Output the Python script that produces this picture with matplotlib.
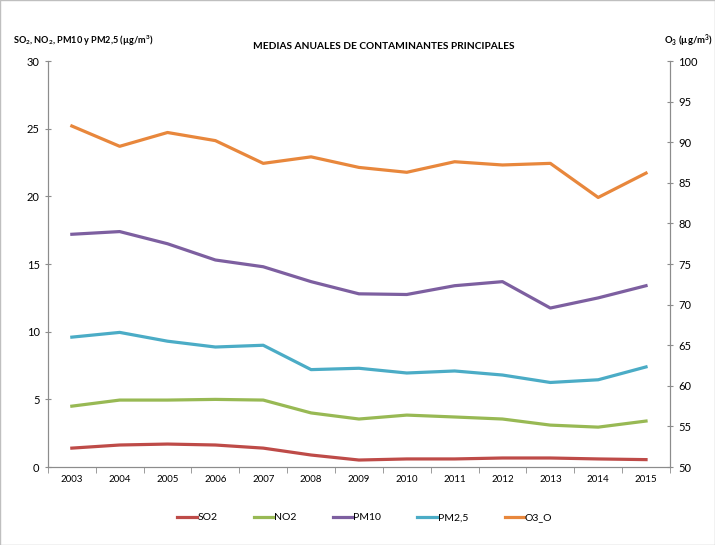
import matplotlib.pyplot as plt
from matplotlib.patches import Rectangle
import numpy as np

plt.rcParams['font.family'] = ['Lato', 'DejaVu Sans']
plt.rcParams['mathtext.fontset'] = 'custom'
plt.rcParams['mathtext.rm'] = 'Lato'
plt.rcParams['mathtext.bf'] = 'Lato:bold'
plt.rcParams['mathtext.default'] = 'bf'

years = [2003, 2004, 2005, 2006, 2007, 2008, 2009, 2010, 2011, 2012, 2013, 2014, 2015]
so2 = [1.4, 1.63, 1.7, 1.63, 1.4, 0.89, 0.52, 0.6, 0.6, 0.67, 0.67, 0.6, 0.55]
no2 = [4.5, 4.95, 4.95, 5.0, 4.95, 4.0, 3.55, 3.84, 3.7, 3.55, 3.1, 2.95, 3.4]
pm10 = [17.2, 17.4, 16.5, 15.3, 14.8, 13.7, 12.8, 12.75, 13.4, 13.7, 11.75, 12.5, 13.4]
pm25 = [9.6, 9.95, 9.3, 8.87, 9.0, 7.2, 7.3, 6.95, 7.1, 6.8, 6.25, 6.45, 7.4]
o3 = [92.0, 89.5, 91.2, 90.2, 87.4, 88.2, 86.9, 86.3, 87.6, 87.2, 87.4, 83.2, 86.2]

colors = {'SO2': '#BE4B48', 'NO2': '#98B954', 'PM10': '#7D5FA0',
          'PM2,5': '#4BACC6', 'O3_O': '#E8873C'}

fig = plt.figure(figsize=(7.15, 5.45), dpi=100)
fig.patches.append(Rectangle((0, 0), 1, 1, transform=fig.transFigure,
                             fill=False, edgecolor='#BFBFBF', lw=1))
ax = fig.add_axes([0.067, 0.143, 0.87, 0.745])
ax2 = ax.twinx()

x = np.arange(len(years))
lines = []
for name, vals in [('SO2', so2), ('NO2', no2), ('PM10', pm10), ('PM2,5', pm25)]:
    l, = ax.plot(x, vals, color=colors[name], lw=2.3, label=name)
    lines.append(l)
l, = ax2.plot(x, o3, color=colors['O3_O'], lw=2.3, label='O3_O')
lines.append(l)

ax.set_xlim(-0.5, len(years) - 0.5)
ax.set_ylim(0, 30)
ax.set_yticks(range(0, 31, 5))
ax2.set_ylim(50, 100)
ax2.set_yticks(range(50, 101, 5))

ax.set_xticks(x)
ax.set_xticklabels([str(y) for y in years], fontsize=7)
ax.set_xticks(np.arange(-0.5, len(years), 1), minor=True)
ax.tick_params(axis='x', which='major', length=0, pad=6)
ax.tick_params(axis='x', which='minor', length=4, color='#8C8C8C', direction='out')
ax.tick_params(axis='y', labelsize=8, length=5, color='#8C8C8C', direction='inout')
ax2.tick_params(axis='y', labelsize=8, length=5, color='#8C8C8C', direction='inout')

for a in (ax, ax2):
    a.spines['top'].set_visible(False)
    for s in ('left', 'right', 'bottom'):
        a.spines[s].set_color('#8C8C8C')

fig.text(0.537, 0.915, 'MEDIAS ANUALES DE CONTAMINANTES PRINCIPALES',
         ha='center', va='center', fontsize=7.3, fontweight='bold')
fig.text(0.018, 0.925, 'SO$_2$, NO$_2$, PM10 y PM2,5 (µg/m$^3$)',
         ha='left', va='center', fontsize=6.6, fontweight='bold')
fig.text(0.997, 0.925, 'O$_3$ (µg/m$^3$)',
         ha='right', va='center', fontsize=6.8, fontweight='bold')

fig.legend(handles=lines, loc='center', bbox_to_anchor=(0.51, 0.05), ncol=5,
           frameon=False, fontsize=7.5, handlelength=1.9, columnspacing=3.5,
           handletextpad=0.05)

fig.savefig('out.png', dpi=100)
